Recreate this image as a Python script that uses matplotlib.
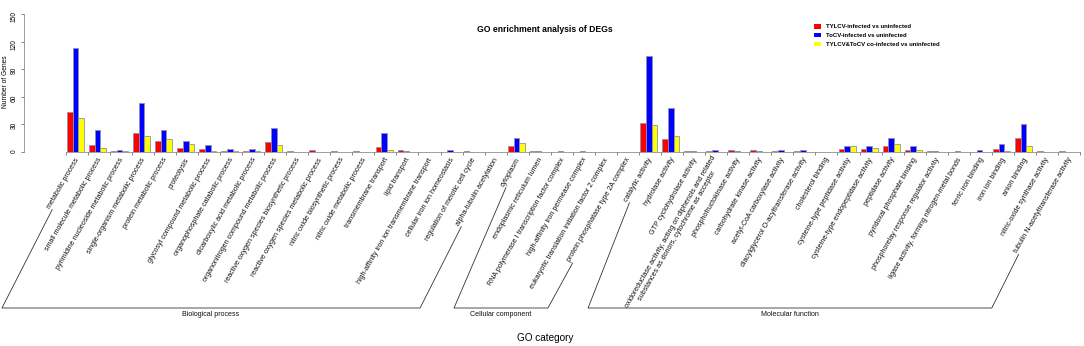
import matplotlib

matplotlib.use("Agg")
import matplotlib.pyplot as plt  # noqa: E402
import numpy as np  # noqa: E402
from matplotlib.lines import Line2D  # noqa: E402
from matplotlib.patches import Patch  # noqa: E402

plt.rcParams["font.family"] = ["Liberation Sans", "DejaVu Sans"]

# GO terms, in plotting order
terms = [
    "metabolic process", "small molecule metabolic process",
    "pyrimidine nucleoside metabolic process", "single-organism metabolic process",
    "protein metabolic process", "proteolysis", "glycosyl compound metabolic process",
    "organophosphate catabolic process", "dicarboxylic acid metabolic process",
    "organonitrogen compound metabolic process",
    "reactive oxygen species biosynthetic process",
    "reactive oxygen species metabolic process", "nitric oxide biosynthetic process",
    "nitric oxide metabolic process", "transmembrane transport", "lipid transport",
    "high-affinity iron ion transmembrane transport", "cellular iron ion homeostasis",
    "regulation of meiotic cell cycle", "alpha-tubulin acetylation",
    "cytoplasm", "endoplasmic reticulum lumen",
    "RNA polymerase I transcription factor complex", "high-affinity iron permease complex",
    "eukaryotic translation initiation factor 2 complex",
    "protein phosphatase type 2A complex",
    "catalytic activity", "hydrolase activity", "GTP cyclohydrolase activity",
    "oxidoreductase activity, acting on diphenols and related\n"
    "substances as donors, cytochrome as acceptor",
    "phosphofructokinase activity", "carbohydrate kinase activity",
    "acetyl-CoA carboxylase activity", "diacylglycerol O-acyltransferase activity",
    "cholesterol binding", "cysteine-type peptidase activity",
    "cysteine-type endopeptidase activity", "peptidase activity",
    "pyridoxal phosphate binding", "phosphorelay response regulator activity",
    "ligase activity, forming nitrogen-metal bonds", "ferric iron binding",
    "iron ion binding", "anion binding", "nitric-oxide synthase activity",
    "tubulin N-acetyltransferase activity",
]

tylcv = [43, 8, 1, 21, 12, 4, 3, 1, 1, 11, 1, 2, 1, 1, 5, 2, 0, 0, 1, 0,
         7, 1, 0, 0, 0, 0,
         32, 14, 1, 1, 2, 2, 1, 1, 0, 3, 3, 6, 2, 1, 0, 0, 3, 15, 1, 1]
tocv = [113, 24, 2, 53, 24, 12, 8, 3, 3, 26, 0, 0, 0, 0, 21, 1, 0, 2, 0, 0,
        15, 1, 1, 1, 0, 0,
        104, 48, 1, 2, 1, 1, 2, 2, 0, 6, 6, 15, 6, 1, 1, 2, 9, 30, 0, 0]
coinf = [37, 4, 1, 17, 14, 9, 1, 1, 1, 8, 0, 0, 0, 0, 2, 0, 0, 0, 0, 0,
         10, 0, 0, 0, 0, 0,
         29, 17, 0, 0, 0, 0, 0, 0, 0, 6, 4, 9, 2, 0, 0, 0, 1, 6, 0, 0]

series = ["TYLCV-infected vs uninfected", "ToCV-infected vs uninfected",
          "TYLCV&ToCV co-infected vs uninfected"]
colors = ["#ff0000", "#0000ff", "#ffff00"]

# (name, first term, last term, left foot, right foot) in group units
ontologies = [
    ("Biological process", 0, 19, -2.89, 16.07),
    ("Cellular component", 20, 25, 17.61, 21.87),
    ("Molecular function", 26, 45, 23.69, 42.0),
]

W, H = 1084, 346
fig = plt.figure(figsize=(W / 100, H / 100), dpi=100)
ax = fig.add_axes([65.7 / W, 1 - 152 / H, (1080 - 65.7) / W, 138 / H])

n = len(terms)
x = np.arange(n)
bw = 0.26
for k, (vals, c) in enumerate(zip([tylcv, tocv, coinf], colors)):
    ax.bar(x + 0.05 + k * bw, vals, width=bw, align="edge", color=c,
           edgecolor="#9090a8", linewidth=0.6)

ax.set_xlim(0, n)
ax.set_ylim(0, 150)
ax.set_yticks([0, 30, 60, 90, 120, 150])
ax.set_xticks(np.arange(n + 1))
ax.set_xticklabels([])
ax.tick_params(axis="x", length=2.5, width=0.5, color="#555555")
ax.tick_params(axis="y", length=2.5, width=0.5, color="#555555", labelsize=4.8,
               pad=2, labelrotation=90)
for lab in ax.get_yticklabels():
    lab.set_va("center")
for s in ["top", "right"]:
    ax.spines[s].set_visible(False)
ax.spines["left"].set_position(("axes", (24 - 65.7) / (1080 - 65.7)))
ax.spines["left"].set_linewidth(0.5)
ax.spines["left"].set_color("#777777")
ax.spines["bottom"].set_linewidth(0.5)
ax.spines["bottom"].set_color("#777777")
fig.text(5.5 / W, 1 - 82 / H, "Number of Genes", rotation=90, ha="center",
         va="center", fontsize=4.8)

# rotated category labels
trans = ax.get_xaxis_transform()
labels = []
for i, t in enumerate(terms):
    labels.append(ax.text(i + 0.55, -0.045, t, transform=trans, rotation=60,
                          rotation_mode="anchor", ha="right", va="center",
                          fontsize=5.1, color="#111111", multialignment="center",
                          linespacing=1.0))

fig.canvas.draw()
renderer = fig.canvas.get_renderer()
th = np.deg2rad(60)
c, s = np.cos(th), np.sin(th)


def label_start(txt):
    bb = txt.get_window_extent(renderer)
    hh = (c * bb.height - s * bb.width) / (c * c - s * s)
    return bb.x0 + hh * s, bb.y0


base_y = H - 308
for name, first, last, fl, fr in ontologies:
    x_l = ax.transData.transform((fl, 0))[0]
    x_r = ax.transData.transform((fr, 0))[0]
    xs0, ys0 = label_start(labels[first])
    xs1, ys1 = label_start(labels[last])
    px = [xs0, x_l, x_r, xs1]
    py = [ys0, base_y, base_y, ys1]
    fig.add_artist(Line2D(np.array(px) / W, np.array(py) / H, color="#333333",
                          linewidth=0.6, transform=fig.transFigure))
    fig.text((x_l + x_r) / 2 / W, (base_y - 7) / H, name, ha="center", va="center",
             fontsize=5.1, color="#111111")

fig.text(545 / W, 1 - 29 / H, "GO enrichment analysis of DEGs", ha="center",
         va="center", fontsize=6.2, fontweight="bold")
fig.text(545 / W, 1 - 338 / H, "GO category", ha="center", va="center", fontsize=7.2)

handles = [Patch(facecolor=cc, edgecolor="none") for cc in colors]
fig.legend(handles, series, loc="upper left", bbox_to_anchor=(811 / W, 1 - 21 / H),
           frameon=False, prop={"size": 4.3, "weight": "bold"}, handlelength=1.1,
           handleheight=0.8, handletextpad=0.9, labelspacing=0.6, borderpad=0)

fig.savefig("out.png", dpi=100)
